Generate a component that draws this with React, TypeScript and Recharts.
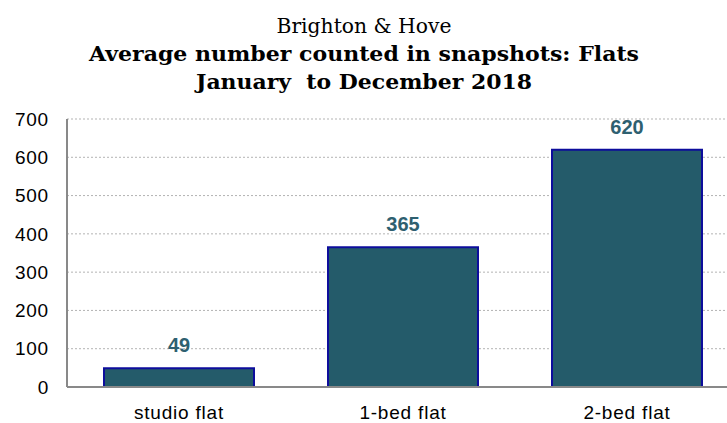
import { BarChart, Bar, XAxis, YAxis, CartesianGrid, LabelList } from "recharts";

const categories = ["studio flat", "1-bed flat", "2-bed flat"];
const counts = [49, 365, 620];
const yTicks = [0, 100, 200, 300, 400, 500, 600, 700];

const titleLines = [
  { text: "Brighton & Hove", bold: false, width: 175 },
  { text: "Average number counted in snapshots: Flats", bold: true, width: 550 },
  { text: "January  to December 2018", bold: true, width: 336 },
];

const data = categories.map((name, i) => ({ name, value: counts[i] }));

const titleFont = "Georgia, 'DejaVu Serif', serif";
const sansFont = "'Liberation Sans', Arial, sans-serif";

const tickStyle = {
  fill: "#000",
  fontSize: 19,
  fontFamily: sansFont,
  letterSpacing: 0.8,
};

export default function App() {
  return (
    <div
      style={{
        position: "absolute",
        left: 0,
        top: 0,
        width: 727,
        height: 423,
        overflow: "hidden",
        background: "#fff",
      }}
    >
      <BarChart
        width={741}
        height={423}
        data={data}
        margin={{ top: 119, right: 2, bottom: 0, left: 0 }}
        barCategoryGap={37}
        style={{ position: "absolute", left: 0, top: 0 }}
      >
        <CartesianGrid vertical={false} stroke="#b3b3b3" strokeDasharray="2 2" />
        <XAxis
          dataKey="name"
          height={36}
          tickLine={false}
          tickSize={0}
          tickMargin={19}
          axisLine={{ stroke: "#898989", strokeWidth: 2 }}
          tick={tickStyle}
        />
        <YAxis
          width={67}
          domain={[0, 700]}
          ticks={yTicks}
          interval={0}
          tickLine={false}
          tickSize={0}
          tickMargin={18}
          axisLine={{ stroke: "#898989", strokeWidth: 2 }}
          tick={tickStyle}
        />
        <Bar
          dataKey="value"
          fill="#245b6a"
          stroke="#0d0d9c"
          strokeWidth={2}
          isAnimationActive={false}
        >
          <LabelList
            dataKey="value"
            position="top"
            offset={16}
            fill="#2e6070"
            fontSize={20}
            fontWeight="bold"
            fontFamily={sansFont}
          />
        </Bar>
      </BarChart>
      {/* title drawn over the chart */}
      <svg
        width={727}
        height={100}
        style={{ position: "absolute", left: 0, top: 0 }}
      >
        {titleLines.map((line, i) => (
          <text
            key={i}
            x={364}
            y={33 + i * 28}
            textAnchor="middle"
            fontFamily={titleFont}
            fontSize={21}
            fontWeight={line.bold ? "bold" : "normal"}
            textLength={line.width}
            lengthAdjust="spacingAndGlyphs"
            fill="#000"
            style={{ whiteSpace: "pre" }}
          >
            {line.text}
          </text>
        ))}
      </svg>
    </div>
  );
}
